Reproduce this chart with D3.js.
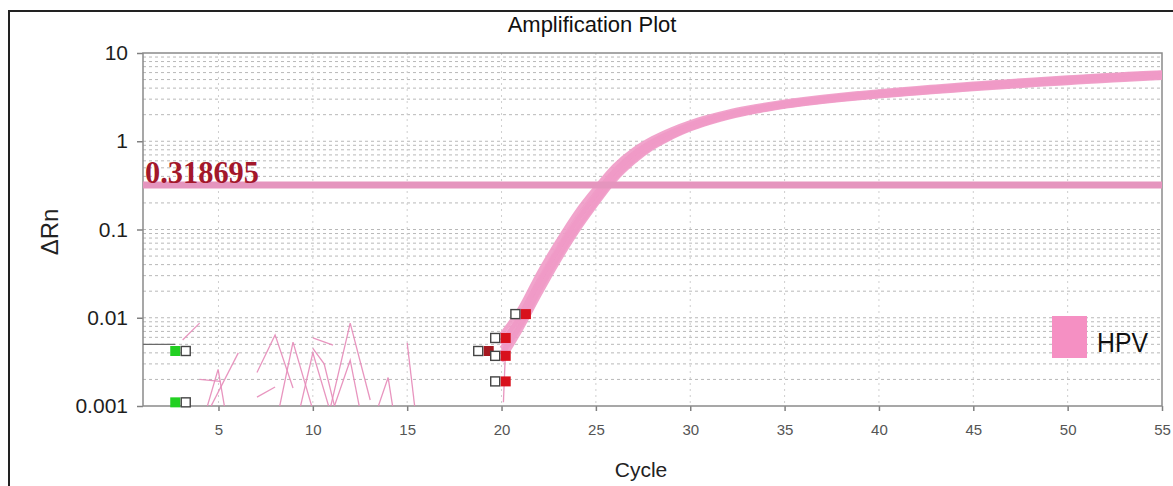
<!DOCTYPE html>
<html>
<head>
<meta charset="utf-8">
<script src="https://cdn.jsdelivr.net/npm/d3@7/dist/d3.min.js"></script>
<style>
  html, body { margin: 0; padding: 0; background: #fff; }
  svg { display: block; }
</style>
</head>
<body>
<svg id="chart" width="1173" height="486"></svg>
<script>
// ---- data -------------------------------------------------------------
const cycles = d3.range(20, 56); // cycles 20..55 for the amplification curves

// ΔRn per cycle (20..55) for each HPV well
const wellA = [0.0065, 0.013, 0.033, 0.075, 0.160, 0.30, 0.53, 0.80, 1.08, 1.36, 1.64, 1.90, 2.15, 2.38, 2.60, 2.81, 3.00, 3.18, 3.35, 3.51, 3.67, 3.83, 3.99, 4.15, 4.31, 4.47, 4.63, 4.79, 4.95, 5.11, 5.27, 5.43, 5.58, 5.74, 5.89, 6.02];
const wellB = [0.0045, 0.0095, 0.025, 0.058, 0.125, 0.24, 0.44, 0.70, 0.97, 1.24, 1.52, 1.78, 2.02, 2.24, 2.45, 2.65, 2.83, 2.99, 3.14, 3.29, 3.44, 3.58, 3.73, 3.88, 4.02, 4.17, 4.32, 4.46, 4.61, 4.76, 4.91, 5.06, 5.21, 5.36, 5.50, 5.62];
const wellC = [0.0032, 0.0072, 0.018, 0.043, 0.095, 0.19, 0.36, 0.58, 0.84, 1.10, 1.37, 1.62, 1.86, 2.08, 2.28, 2.47, 2.64, 2.80, 2.95, 3.09, 3.23, 3.37, 3.50, 3.64, 3.77, 3.91, 4.04, 4.18, 4.31, 4.45, 4.58, 4.72, 4.85, 4.99, 5.12, 5.24];
const wellD = [0.005, 0.011, 0.027, 0.062, 0.135, 0.26, 0.47, 0.73, 1.00, 1.27, 1.54, 1.79, 2.02, 2.23, 2.43, 2.62, 2.79, 2.95, 3.09, 3.23, 3.37, 3.51, 3.65, 3.79, 3.93, 4.07, 4.21, 4.35, 4.49, 4.63, 4.77, 4.91, 5.05, 5.19, 5.32, 5.44];
const wellE = [0.004, 0.0085, 0.022, 0.051, 0.110, 0.215, 0.40, 0.65, 0.93, 1.21, 1.50, 1.78, 2.04, 2.28, 2.50, 2.71, 2.90, 3.08, 3.25, 3.41, 3.57, 3.73, 3.89, 4.05, 4.21, 4.37, 4.53, 4.69, 4.85, 5.01, 5.17, 5.33, 5.49, 5.65, 5.80, 5.93];
const wellF = [0.0055, 0.0105, 0.026, 0.060, 0.128, 0.25, 0.45, 0.71, 0.98, 1.26, 1.54, 1.81, 2.06, 2.28, 2.49, 2.69, 2.87, 3.03, 3.19, 3.34, 3.49, 3.64, 3.79, 3.94, 4.09, 4.24, 4.39, 4.54, 4.69, 4.84, 4.99, 5.14, 5.29, 5.44, 5.58, 5.70];
const wellG = [0.0038, 0.0080, 0.020, 0.047, 0.102, 0.20, 0.38, 0.61, 0.87, 1.13, 1.40, 1.65, 1.89, 2.11, 2.31, 2.50, 2.68, 2.84, 2.99, 3.13, 3.27, 3.41, 3.55, 3.69, 3.83, 3.97, 4.11, 4.25, 4.39, 4.53, 4.67, 4.81, 4.95, 5.09, 5.22, 5.34];
const wells = [wellA, wellB, wellC, wellD, wellE, wellF, wellG];

// baseline noise traces, [cycle, ΔRn]
const noiseTraces = [
  [[3.1, 0.0056], [4.0, 0.0087]],
  [[4.35, 0.0009], [4.98, 0.0026], [5.35, 0.0009]],
  [[4.5, 0.0009], [6.05, 0.0040]],
  [[4.0, 0.0020], [5.1, 0.0019]],
  [[7.04, 0.0024], [8.0, 0.0064], [8.95, 0.0016]],
  [[7.04, 0.00126], [8.0, 0.00164]],
  [[8.2, 0.0009], [8.95, 0.0053], [10.0, 0.0009]],
  [[9.3, 0.0009], [10.0, 0.0040], [10.9, 0.0009]],
  [[10.0, 0.0059], [11.07, 0.0049]],
  [[10.0, 0.0045], [10.6, 0.0030], [11.2, 0.0009]],
  [[10.9, 0.0009], [11.98, 0.0087], [13.04, 0.00117]],
  [[11.07, 0.0009], [11.98, 0.0033], [12.5, 0.0009]],
  [[13.4, 0.0009], [13.99, 0.0021], [14.26, 0.0009]],
  [[15.0, 0.0052], [15.42, 0.0009]],
  [[20.2, 0.0038], [20.1, 0.0011]]
];
const flatTrace = [[1, 0.0050], [2.7, 0.0050]];

// threshold
const threshold = 0.318695;

// baseline start / end markers [cycle, ΔRn]
const baselineStart = [[3.0, 0.0042], [3.0, 0.0011]];
const baselineEnd = [[21.0, 0.011], [19.93, 0.0059], [19.03, 0.0042], [19.93, 0.0037], [19.93, 0.0019]];

const xTicks = [5, 10, 15, 20, 25, 30, 35, 40, 45, 50, 55];
const xTickLabels = ["5", "10", "15", "20", "25", "30", "35", "40", "45", "50", "55"];
const yTicks = [0.001, 0.01, 0.1, 1, 10];
const yTickLabels = ["0.001", "0.01", "0.1", "1", "10"];
const legendLabels = ["HPV"];

// ---- layout -----------------------------------------------------------
const W = 1173, H = 486;
const margin = { top: 53, right: 11, bottom: 80, left: 143 };
const pw = W - margin.left - margin.right;
const ph = H - margin.top - margin.bottom;

const svg = d3.select("#chart");
svg.append("rect").attr("width", W).attr("height", H).attr("fill", "#fff");

// outer window frame
svg.append("path")
  .attr("d", `M9,${H} L9,11 L${W},11`)
  .attr("fill", "none").attr("stroke", "#222").attr("stroke-width", 2);

const x = d3.scaleLinear().domain([1, 55]).range([0, pw]);
const y = d3.scaleLog().domain([0.001, 10]).range([ph, 0]);

const g = svg.append("g").attr("transform", `translate(${margin.left},${margin.top})`);

g.append("defs").append("clipPath").attr("id", "plotClip")
  .append("rect").attr("x", 0).attr("y", 0).attr("width", pw).attr("height", ph);

// ---- grid -------------------------------------------------------------
const minorVals = [];
[0.001, 0.01, 0.1, 1].forEach(d => { for (let k = 1; k <= 9; k++) minorVals.push(d * k); });
g.append("g").selectAll("line").data(minorVals.filter(v => v > 0.001)).join("line")
  .attr("x1", 0).attr("x2", pw)
  .attr("y1", d => y(d)).attr("y2", d => y(d))
  .attr("stroke", "#b8b8b8").attr("stroke-width", 1).attr("stroke-dasharray", "3,3");

g.append("g").selectAll("line").data(xTicks.slice(0, -1)).join("line")
  .attr("x1", d => x(d)).attr("x2", d => x(d))
  .attr("y1", 0).attr("y2", ph)
  .attr("stroke", "#cfcfcf").attr("stroke-width", 1).attr("stroke-dasharray", "2,4");

// ---- axes -------------------------------------------------------------
const yAxis = g.append("g")
  .call(d3.axisLeft(y).tickValues(yTicks).tickSize(6).tickPadding(9)
    .tickFormat((d, i) => yTickLabels[i]));
yAxis.select(".domain").remove();
yAxis.selectAll("line").attr("stroke", "#808080").attr("stroke-width", 1.5);
yAxis.selectAll("text").attr("font-family", "Liberation Sans, Arial, sans-serif")
  .attr("font-size", 21).attr("fill", "#1e1e1e");

const xAxis = g.append("g").attr("transform", `translate(0,${ph})`)
  .call(d3.axisBottom(x).tickValues(xTicks).tickSize(5).tickPadding(13)
    .tickFormat((d, i) => xTickLabels[i]));
xAxis.select(".domain").remove();
xAxis.selectAll("line").attr("stroke", "#808080").attr("stroke-width", 1.5);
xAxis.selectAll("text").attr("font-family", "Liberation Sans, Arial, sans-serif")
  .attr("font-size", 15).attr("fill", "#555");

// plot frame
g.append("rect").attr("x", 0).attr("y", 0).attr("width", pw).attr("height", ph)
  .attr("fill", "none").attr("stroke", "#8a8a8a").attr("stroke-width", 1.5);

// ---- traces -----------------------------------------------------------
const plot = g.append("g").attr("clip-path", "url(#plotClip)");
const line = d3.line().x(d => x(d[0])).y(d => y(d[1]));

plot.append("path").datum(flatTrace).attr("d", line)
  .attr("fill", "none").attr("stroke", "#6a6a6a").attr("stroke-width", 1.3);

plot.append("g").selectAll("path").data(noiseTraces).join("path")
  .attr("d", line)
  .attr("fill", "none").attr("stroke", "#e58ab8").attr("stroke-width", 1.3).attr("opacity", 0.9);

const curveLine = d3.line().curve(d3.curveMonotoneX).x(d => x(d[0])).y(d => y(d[1]));
plot.append("g").selectAll("path").data(wells).join("path")
  .attr("d", vals => curveLine(vals.map((v, i) => [cycles[i], v])))
  .attr("fill", "none").attr("stroke", "#f09ac7").attr("stroke-width", 4.5)
  .attr("stroke-linejoin", "round").attr("opacity", 0.9);

// threshold line
plot.append("line")
  .attr("x1", 0).attr("x2", pw).attr("y1", y(threshold)).attr("y2", y(threshold))
  .attr("stroke", "#e595be").attr("stroke-width", 7);

g.append("text")
  .attr("x", 2).attr("y", y(threshold) - 2)
  .attr("font-family", "Liberation Serif, Times New Roman, serif")
  .attr("font-weight", "bold").attr("font-size", 31)
  .attr("textLength", 114).attr("lengthAdjust", "spacingAndGlyphs")
  .attr("fill", "#a3172b")
  .text(String(threshold));

// ---- baseline markers -------------------------------------------------
const ms = 10;
const startG = g.append("g");
baselineStart.forEach(([c, v]) => {
  startG.append("rect").attr("x", x(c) - ms - 0.5).attr("y", y(v) - ms / 2)
    .attr("width", ms).attr("height", ms).attr("fill", "#22d022");
  startG.append("rect").attr("x", x(c) + 0.5).attr("y", y(v) - ms / 2 + 0.5)
    .attr("width", ms - 1).attr("height", ms - 1)
    .attr("fill", "#fff").attr("stroke", "#444").attr("stroke-width", 1.4);
});
const endG = g.append("g");
baselineEnd.forEach(([c, v], i) => {
  endG.append("rect").attr("x", x(c) - ms + 0.5).attr("y", y(v) - ms / 2 + 0.5)
    .attr("width", ms - 1).attr("height", ms - 1)
    .attr("fill", "#fff").attr("stroke", "#444").attr("stroke-width", 1.4);
  endG.append("rect").attr("x", x(c) + 0.5).attr("y", y(v) - ms / 2)
    .attr("width", ms).attr("height", ms).attr("fill", i === 2 ? "#a51820" : "#d8101c");
});

// ---- legend -----------------------------------------------------------
const lg = svg.append("g").attr("transform", "translate(1052,316)");
lg.selectAll("rect").data(legendLabels).join("rect")
  .attr("x", 0).attr("y", 0).attr("width", 35).attr("height", 42).attr("fill", "#f590c3");
lg.selectAll("text").data(legendLabels).join("text")
  .attr("x", 45).attr("y", 36)
  .attr("font-family", "Liberation Sans, Arial, sans-serif").attr("font-size", 28)
  .attr("textLength", 51).attr("lengthAdjust", "spacingAndGlyphs")
  .attr("fill", "#111").text(d => d);

// ---- titles -----------------------------------------------------------
svg.append("text").attr("x", 592).attr("y", 32).attr("text-anchor", "middle")
  .attr("font-family", "Liberation Sans, Arial, sans-serif").attr("font-size", 22)
  .attr("fill", "#111").text("Amplification Plot");

svg.append("text").attr("transform", "translate(58,232) rotate(-90)")
  .attr("text-anchor", "middle")
  .attr("font-family", "Liberation Sans, Arial, sans-serif").attr("font-size", 24)
  .attr("fill", "#222").text("ΔRn");

svg.append("text").attr("x", 641).attr("y", 477).attr("text-anchor", "middle")
  .attr("font-family", "Liberation Sans, Arial, sans-serif").attr("font-size", 21)
  .attr("fill", "#222").text("Cycle");
</script>
</body>
</html>
